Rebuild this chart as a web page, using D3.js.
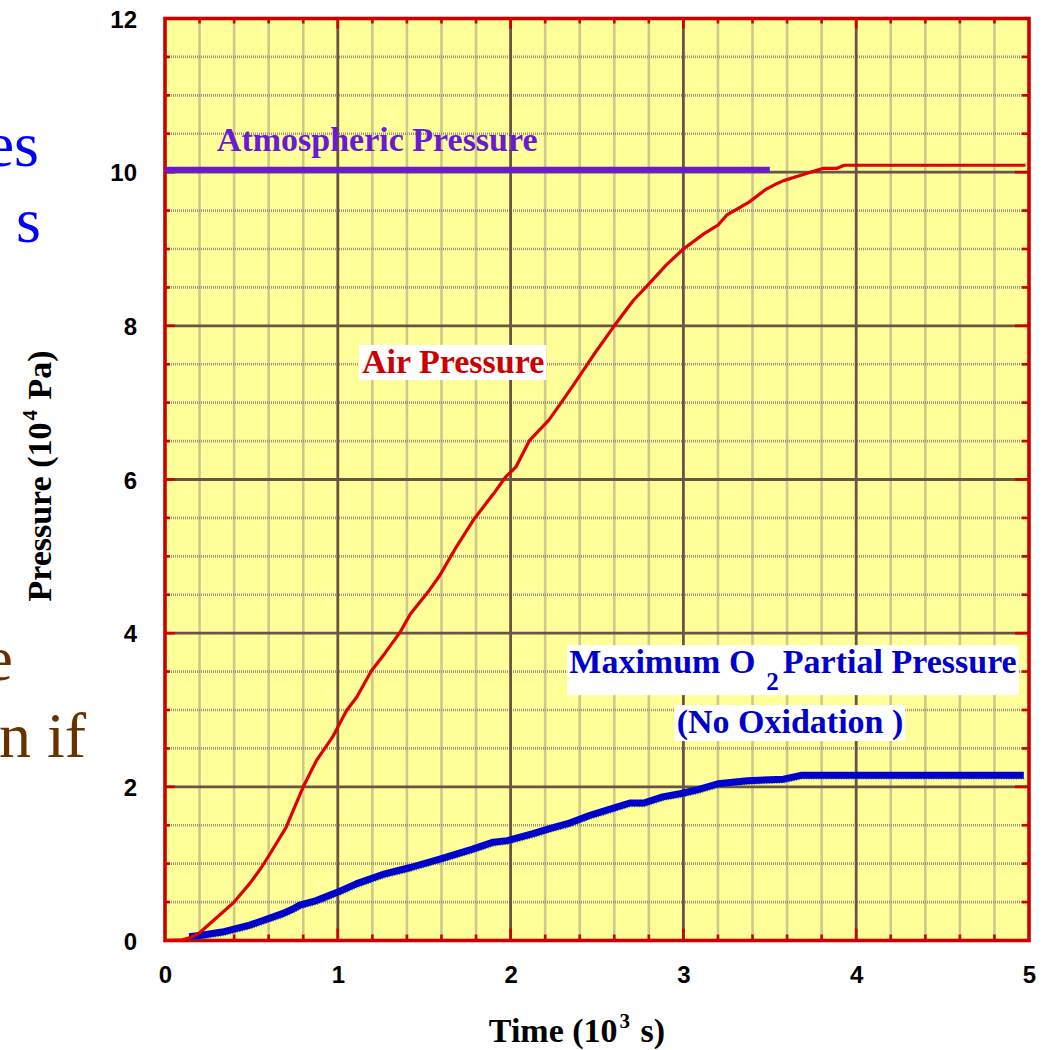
<!DOCTYPE html>
<html><head><meta charset="utf-8">
<script src="https://cdn.jsdelivr.net/npm/d3@7"></script>
<style>html,body{margin:0;padding:0;background:#fff;overflow:hidden}</style>
</head><body>
<svg id="chart" width="1049" height="1050"></svg>
<script>
// ---- data ----
const airTime = [0,0.1,0.15,0.2,0.3,0.4,0.49,0.558,0.6,0.7,0.8,0.876,0.97,1.05,1.11,1.195,1.27,1.36,1.42,1.53,1.59,1.68,1.79,1.9,1.97,2.03,2.11,2.22,2.29,2.37,2.48,2.6,2.71,2.81,2.9,3.0,3.12,3.2,3.25,3.38,3.48,3.54,3.58,3.68,3.81,3.89,3.93,4.98];
const airPressure = [0,0.01,0.04,0.1,0.3,0.5,0.74,0.95,1.1,1.47,2.0,2.34,2.65,2.99,3.17,3.51,3.73,4.01,4.25,4.56,4.75,5.1,5.49,5.81,6.03,6.16,6.51,6.77,6.99,7.25,7.62,8.0,8.33,8.57,8.79,9.0,9.2,9.31,9.44,9.61,9.78,9.85,9.89,9.96,10.05,10.05,10.09,10.09];
const o2Time = [0.14,0.2,0.33,0.49,0.68,0.74,0.78,0.876,1.0,1.11,1.26,1.42,1.59,1.78,1.9,1.98,2.13,2.23,2.33,2.46,2.52,2.69,2.77,2.88,2.98,3.08,3.2,3.37,3.58,3.68,4.97];
const o2Pressure = [0.05,0.065,0.11,0.2,0.35,0.41,0.46,0.52,0.63,0.74,0.86,0.95,1.06,1.19,1.28,1.3,1.39,1.46,1.52,1.63,1.67,1.79,1.79,1.87,1.91,1.96,2.04,2.08,2.1,2.15,2.15];
const atmTime = [0,3.5];
const atmPressure = [10.03,10.03];
const xTicks = [0,1,2,3,4,5];
const yTicks = [0,2,4,6,8,10,12];

const svg = d3.select("#chart");
const x = d3.scaleLinear().domain([0,5]).range([165,1029]);
const y = d3.scaleLinear().domain([0,12]).range([940.5,18.5]);

// cut-off slide text on the left (partly outside the page, as in the reference)
const side = svg.append("g").attr("font-family","'Liberation Serif','Times New Roman',serif").attr("font-size",64).attr("text-anchor","end");
side.append("text").attr("x",39).attr("y",166).attr("fill","#0000ff").text("es");
side.append("text").attr("x",41).attr("y",242).attr("fill","#0000ff").text("s");
side.append("text").attr("x",13).attr("y",680).attr("fill","#663300").text("e");
side.append("text").attr("x",86).attr("y",757).attr("fill","#663300").text("n if");

// background
svg.append("rect").attr("x",x(0)).attr("y",y(12)).attr("width",x(5)-x(0)).attr("height",y(0)-y(12)).attr("fill","#ffff99");

// minor grid
const xMinor = d3.range(0,5.001,0.2).filter(v=>Math.abs(v-Math.round(v))>1e-6);
const yMinor = d3.range(0,12.001,0.5).filter(v=>Math.abs(v/2-Math.round(v/2))>1e-6);
const gMinor = svg.append("g").attr("stroke","#9f927e").attr("stroke-width",2.6).attr("stroke-dasharray","1,1");
gMinor.selectAll("line.vx").data(xMinor).join("line").attr("x1",d=>x(d)).attr("x2",d=>x(d)).attr("y1",y(12)).attr("y2",y(0));
gMinor.selectAll("line.hy").data(yMinor).join("line").attr("y1",d=>y(d)).attr("y2",d=>y(d)).attr("x1",x(0)).attr("x2",x(5));

// major grid
const gMajor = svg.append("g").attr("stroke","#6b5345").attr("stroke-width",2.8);
gMajor.selectAll("line.v").data([1,2,3,4]).join("line").attr("x1",d=>x(d)).attr("x2",d=>x(d)).attr("y1",y(12)).attr("y2",y(0));
gMajor.selectAll("line.h").data([2,4,6,8,10]).join("line").attr("y1",d=>y(d)).attr("y2",d=>y(d)).attr("x1",x(0)).attr("x2",x(5));

// red tick marks inside border
const gTick = svg.append("g").attr("stroke","#cc0000").attr("stroke-width",2.6);
const xAll = d3.range(0.2,4.9,0.2);
const yAll = d3.range(0.5,11.9,0.5);
const isMajX = v=>Math.abs(v-Math.round(v))<1e-6;
const isMajY = v=>Math.abs(v/2-Math.round(v/2))<1e-6;
gTick.selectAll("line.b").data(xAll).join("line").attr("x1",d=>x(d)).attr("x2",d=>x(d)).attr("y1",y(0)).attr("y2",d=>y(0)-(isMajX(d)?12:6));
gTick.selectAll("line.t").data(xAll).join("line").attr("x1",d=>x(d)).attr("x2",d=>x(d)).attr("y1",y(12)).attr("y2",d=>y(12)+(isMajX(d)?10:5));
gTick.selectAll("line.l").data(yAll).join("line").attr("y1",d=>y(d)).attr("y2",d=>y(d)).attr("x1",x(0)).attr("x2",d=>x(0)+(isMajY(d)?10:5));
gTick.selectAll("line.r").data(yAll).join("line").attr("y1",d=>y(d)).attr("y2",d=>y(d)).attr("x1",x(5)).attr("x2",d=>x(5)-(isMajY(d)?14:7));

// border
svg.append("rect").attr("x",x(0)).attr("y",y(12)).attr("width",x(5)-x(0)).attr("height",y(0)-y(12)).attr("fill","none").attr("stroke","#cc0000").attr("stroke-width",3.6);

// axes (labels only)
const xAxis = d3.axisBottom(x).tickValues(xTicks).tickSize(0).tickPadding(0).tickFormat(d3.format("d"));
const gx = svg.append("g").attr("transform",`translate(0,${y(0)+25})`).call(xAxis);
gx.select(".domain").remove();
gx.selectAll("text").attr("font-family","'Liberation Sans',Arial,sans-serif").attr("font-weight","bold").attr("font-size",24).attr("fill","#000").attr("dy","0.71em");
const yAxis = d3.axisLeft(y).tickValues(yTicks).tickSize(0).tickPadding(0).tickFormat(d3.format("d"));
const gy = svg.append("g").attr("transform",`translate(137,0)`).call(yAxis);
gy.select(".domain").remove();
gy.selectAll("text").attr("font-family","'Liberation Sans',Arial,sans-serif").attr("font-weight","bold").attr("font-size",24).attr("fill","#000").attr("dy","0.36em");

// axis titles
const serif = "'Liberation Serif','Times New Roman',serif";
const xt = svg.append("text").attr("x",577).attr("y",1042).attr("text-anchor","middle").attr("font-family",serif).attr("font-weight","bold").attr("font-size",34).attr("fill","#000");
xt.append("tspan").text("Time (10");
xt.append("tspan").attr("dx",2).attr("dy",-14).attr("font-size",21).text("3");
xt.append("tspan").attr("dx",2).attr("dy",14).text(" s)");
const yt = svg.append("text").attr("transform","translate(51,476) rotate(-90)").attr("text-anchor","middle").attr("font-family",serif).attr("font-weight","bold").attr("font-size",34).attr("fill","#000");
yt.append("tspan").text("Pressure (10");
yt.append("tspan").attr("dx",2).attr("dy",-14).attr("font-size",21).text("4");
yt.append("tspan").attr("dx",2).attr("dy",14).text(" Pa)");

// lines
const line = d3.line().x(d=>x(d[0])).y(d=>y(d[1]));
const atm = atmTime.map((t,i)=>[t,atmPressure[i]]);
const air = airTime.map((t,i)=>[t,airPressure[i]]);
const o2 = o2Time.map((t,i)=>[t,o2Pressure[i]]);

svg.append("path").attr("d",line(atm)).attr("fill","none").attr("stroke","#6a1bd1").attr("stroke-width",6);
svg.append("path").attr("d",line(o2)).attr("transform","translate(1,3.5)").attr("fill","none").attr("stroke","#3d8a2e").attr("stroke-width",1.6).attr("stroke-dasharray","1,1.5");
svg.append("path").attr("d",line(o2)).attr("fill","none").attr("stroke","#0000cc").attr("stroke-width",7).attr("stroke-linejoin","round");
svg.append("path").attr("d",line(air)).attr("fill","none").attr("stroke","#e00000").attr("stroke-width",3.2).attr("stroke-linejoin","round");

// Atmospheric Pressure (no box)
svg.append("text").attr("x",x(0.3)).attr("y",y(10.3)+2).attr("font-family",serif).attr("font-weight","bold").attr("font-size",34).attr("fill","#6a1bd1").text("Atmospheric Pressure");

// Air Pressure (white box)
const gAir = svg.append("g");
const airRect = gAir.append("rect").attr("fill","#fff");
const airText = gAir.append("text").attr("x",x(1.14)).attr("y",y(7.4)+1).attr("font-family",serif).attr("font-weight","bold").attr("font-size",34).attr("fill","#cc0000").text("Air Pressure");
let bb = airText.node().getBBox();
airRect.attr("x",bb.x-3).attr("y",bb.y+2).attr("width",bb.width+5).attr("height",bb.height-2);

// Maximum O2 Partial Pressure (No Oxidation)
const gO2 = svg.append("g");
const r1 = gO2.append("rect").attr("fill","#fff");
const r2 = gO2.append("rect").attr("fill","#fff");
const r3 = gO2.append("rect").attr("fill","#fff");
const cx = 793;
const l1 = gO2.append("text").attr("x",cx).attr("y",y(3.48)).attr("text-anchor","middle").attr("font-family",serif).attr("font-weight","bold").attr("font-size",34).attr("fill","#0000cc");
l1.append("tspan").text("Maximum O");
const sub = l1.append("tspan").attr("dx",11).attr("dy",17).attr("font-size",25).text("2");
l1.append("tspan").attr("dx",4).attr("dy",-17).text("Partial Pressure");
const l2 = gO2.append("text").attr("x",cx-3).attr("y",y(2.7)).attr("text-anchor","middle").attr("font-family",serif).attr("font-weight","bold").attr("font-size",34).attr("fill","#0000cc").text("(No Oxidation )");
bb = l1.node().getBBox();
r1.attr("x",bb.x-2).attr("y",bb.y+2).attr("width",bb.width+4).attr("height",bb.height-2);
const sb = sub.node().getExtentOfChar(0);
r3.attr("x",sb.x-1).attr("y",bb.y+2).attr("width",sb.width+3).attr("height",(sb.y+sb.height)-(bb.y+2)-3);
bb = l2.node().getBBox();
r2.attr("x",bb.x-2).attr("y",bb.y+2).attr("width",bb.width+4).attr("height",bb.height-2);
</script>
</body></html>
